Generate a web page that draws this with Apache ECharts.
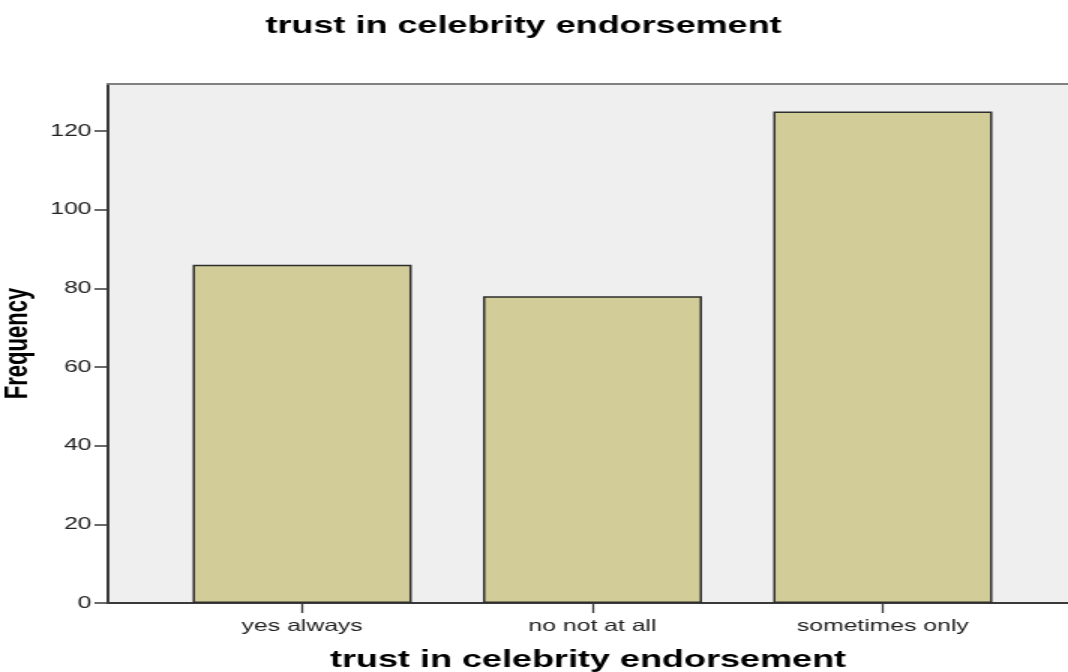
<!DOCTYPE html>
<html>
<head>
<meta charset="utf-8">
<script src="https://cdn.jsdelivr.net/npm/echarts@6/dist/echarts.min.js"></script>
<style>
html,body{margin:0;padding:0;background:#fff;overflow:hidden;}
#wrap{width:1068px;height:672px;overflow:hidden;}
#chart{width:712px;height:672px;transform:scaleX(1.5);transform-origin:0 0;}
</style>
</head>
<body>
<div id="wrap"><div id="chart"></div></div>
<script>
const chartTitle = 'trust in celebrity endorsement';
const categories = ['yes always', 'no not at all', 'sometimes only'];
const frequencies = [86, 78, 125];
const yTickValues = [0, 20, 40, 60, 80, 100, 120];
const yAxisName = 'Frequency';

const catIndex = categories.map((c, i) => i);
const barData = categories.map((c, i) => [i, frequencies[i]]);

const chart = echarts.init(document.getElementById('chart'));
const font = '"Liberation Sans", Arial, sans-serif';
chart.setOption({
  animation: false,
  backgroundColor: '#ffffff',
  title: {
    text: chartTitle,
    left: 172,
    top: 9,
    textStyle: { fontFamily: font, fontWeight: 'bold', fontSize: 24, color: '#000' }
  },
  grid: {
    left: 72, right: 0, top: 84, bottom: 69,
    containLabel: false,
    outerBoundsMode: 'none',
    show: true, backgroundColor: '#efefef', borderWidth: 0
  },
  xAxis: [{
    type: 'value',
    min: -0.669, max: 2.638,
    name: chartTitle,
    nameLocation: 'middle',
    nameGap: 45,
    nameTextStyle: { fontFamily: font, fontWeight: 'bold', fontSize: 24, color: '#000' },
    splitLine: { show: false },
    axisLine: { show: true, onZero: false, lineStyle: { color: '#3a3a3a', width: 2 } },
    axisTick: { show: true, length: 10, customValues: catIndex, lineStyle: { color: '#3a3a3a', width: 1.3 } },
    axisLabel: {
      customValues: catIndex,
      margin: 15,
      fontFamily: font, fontSize: 16.5, color: '#222',
      formatter: v => (Number.isInteger(v) && categories[v] !== undefined) ? categories[v] : ''
    }
  }, {
    type: 'value',
    position: 'top',
    min: -0.669, max: 2.638,
    splitLine: { show: false },
    axisLine: { show: true, onZero: false, lineStyle: { color: '#808080', width: 2 } },
    axisTick: { show: false },
    axisLabel: { show: false }
  }],
  yAxis: {
    type: 'value',
    position: 'left',
    min: 0, max: 132,
    name: yAxisName,
    nameLocation: 'middle',
    nameGap: 40,
    nameTextStyle: { fontFamily: font, fontWeight: 'bold', fontSize: 22, color: '#000' },
    splitLine: { show: false },
    axisLine: { show: true, onZero: false, lineStyle: { color: '#3a3a3a', width: 2 } },
    axisTick: { show: true, length: 9, customValues: yTickValues, lineStyle: { color: '#3a3a3a', width: 1.5 } },
    axisLabel: {
      customValues: yTickValues,
      margin: 11,
      fontFamily: font, fontSize: 16.5, color: '#222'
    }
  },
  series: [{
    type: 'bar',
    xAxisIndex: 0,
    data: barData,
    barWidth: 146,
    itemStyle: { color: '#d2cd98', borderColor: '#2e2e2e', borderWidth: 1.5 }
  }]
});
</script>
</body>
</html>
